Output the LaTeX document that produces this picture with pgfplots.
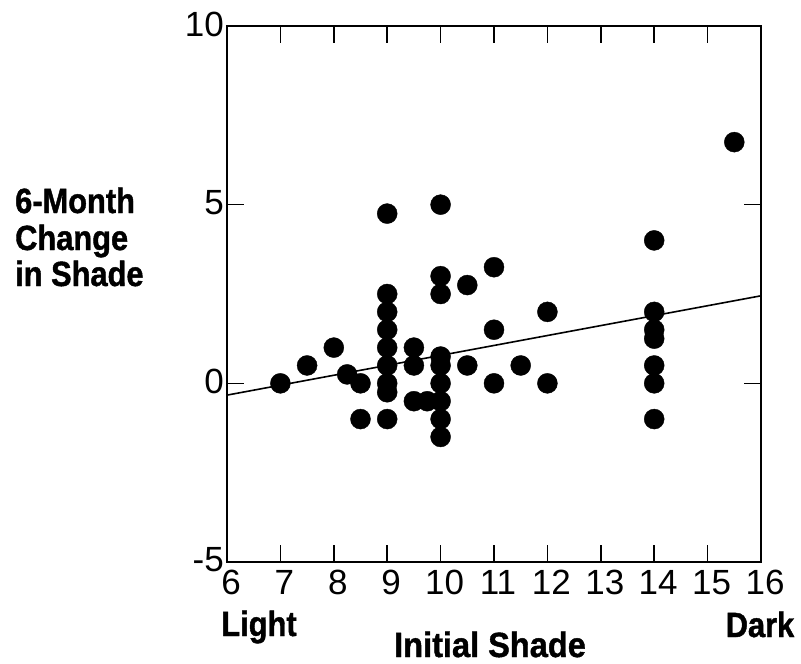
\documentclass[border=0pt]{standalone}
\usepackage{fontspec}
\setmainfont{Liberation Sans}
\newfontfamily\labfont{Liberation Sans}[FakeStretch=0.88, FakeBold=1.2]
\newfontfamily\widelabfont{Liberation Sans}[FakeStretch=0.93, FakeBold=1.2]
\usepackage{pgfplots}
\pgfplotsset{compat=1.18}

\newcommand{\labsize}{\labfont\bfseries\fontsize{35}{36}\selectfont}
\newcommand{\widelabsize}{\widelabfont\bfseries\fontsize{35}{36}\selectfont}

\begin{document}
\begin{tikzpicture}
\path[use as bounding box] (0pt,0pt) rectangle (801pt,-664pt);
\begin{axis}[
  at={(227pt,-562pt)}, anchor=south west,
  scale only axis, width=534pt, height=536pt,
  xmin=6, xmax=16, ymin=-5, ymax=10,
  xtick={6,...,16}, ytick={-5,0,5,10},
  tick align=inside,
  major tick length=17pt,
  axis line style={line width=2pt},
  every tick/.style={black, line width=1.6pt},
  tick label style={font=\fontsize{35}{35}\selectfont},
  /pgf/number format/assume math mode=true,
  xticklabel style={inner sep=2pt, xshift=4pt, yshift=-6pt},
  yticklabel style={inner sep=3pt, yshift=2pt},
  clip=false,
]
% least-squares trend line
\addplot[black, line width=1.6pt] coordinates {(6,-0.33) (16,2.45)};
% observations
\addplot[only marks, mark=*, mark size=10pt, mark options={fill=black, draw=black}]
  coordinates {
  (7,0) (7.5,0.5) (8,1) (8.25,0.25) (8.5,0) (8.5,-1)
  (9,4.75) (9,2.5) (9,2) (9,1.5) (9,1) (9,0.5) (9,0) (9,-0.25) (9,-1)
  (9.5,1) (9.5,0.5) (9.5,-0.5) (9.75,-0.5)
  (10,5) (10,3) (10,2.5) (10,0.75) (10,0.5) (10,0) (10,-0.5) (10,-1) (10,-1.5)
  (10.5,2.75) (10.5,0.5)
  (11,3.25) (11,1.5) (11,0)
  (11.5,0.5)
  (12,2) (12,0)
  (14,4) (14,2) (14,1.5) (14,1.25) (14,0.5) (14,0) (14,-1)
  (15.5,6.75)
  };
\end{axis}
% axis titles
\node[anchor=base west, inner sep=0pt, font=\labsize] at (15pt,-213pt) {6-Month};
\node[anchor=base west, inner sep=0pt, font=\labsize] at (15pt,-250pt) {Change};
\node[anchor=base west, inner sep=0pt, font=\labsize] at (15pt,-286pt) {in Shade};
\node[anchor=base, inner sep=0pt, font=\labsize] at (259pt,-636pt) {Light};
\node[anchor=base, inner sep=0pt, font=\labsize] at (760pt,-637pt) {Dark};
\node[anchor=base, inner sep=0pt, font=\widelabsize] at (490pt,-657pt) {Initial Shade};
\end{tikzpicture}
\end{document}
